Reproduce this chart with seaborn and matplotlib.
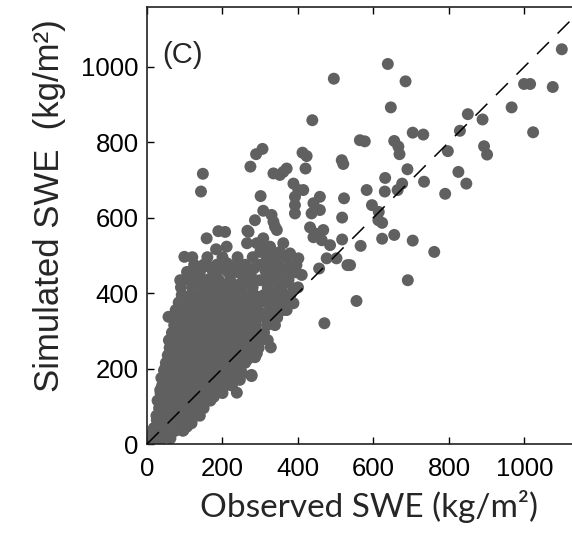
import matplotlib
matplotlib.use("Agg")
import matplotlib.pyplot as plt
import seaborn as sns
import pandas as pd

# ---- data (observed, simulated SWE, kg/m2) ----
obs_sparse = [495, 438, 306, 289, 412, 423, 516, 564,
              1099, 638, 685, 646, 577, 655, 666, 669, 704, 732, 797, 829, 850, 889, 893, 901, 966, 999, 1015, 1075, 1023,
              690, 631, 582, 630, 664, 676, 734, 825, 846, 790, 596, 614, 613, 623, 566, 623, 655, 704, 761, 538, 691, 555, 470,
              148, 143, 274, 420, 520, 335, 352, 370, 361, 388, 401, 414, 301, 392, 392, 392, 441, 458, 436, 458, 432, 467, 441,
              463, 485, 476, 502, 456, 522, 517, 517, 531,
              308, 330, 335, 344, 286, 266, 189, 158, 183, 211, 207, 99, 445,
              328, 339, 238, 277, 246, 249, 286, 266, 57]
sim_sparse = [968, 858, 782, 768, 772, 763, 752, 805,
              1046, 1007, 961, 892, 802, 803, 788, 768, 825, 820, 776, 830, 874, 860, 789, 767, 892, 954, 954, 946, 826,
              728, 705, 673, 669, 673, 690, 695, 721, 690, 663, 633, 615, 593, 586, 525, 544, 554, 539, 509, 474, 434, 379, 320,
              716, 669, 735, 730, 742, 717, 713, 730, 721, 690, 673, 673, 657, 655, 633, 611, 638, 655, 611, 620, 574, 567, 548,
              540, 527, 492, 492, 465, 651, 600, 542, 474,
              618, 607, 589, 567, 593, 565, 564, 545, 516, 523, 562, 496, 558,
              256, 315, 136, 180, 170, 192, 230, 224, 337]

obs_mid = [269, 265, 291, 305, 300, 327, 212, 190, 163, 106, 88, 141, 256, 283, 313, 238, 265, 300, 106, 132, 159, 88, 115,
           203, 221, 185, 265, 300, 327,
           339, 308, 326, 361, 352, 379, 401, 396, 317, 335, 317, 352, 388, 410, 335, 366, 388, 361, 326, 374, 352, 326,
           361, 335, 370, 388, 357, 326, 308, 291, 282, 273, 286, 277,
           291, 265, 291, 252, 185, 203, 212, 150, 177, 132, 124, 106, 97, 62, 48, 35, 35, 26, 18, 9, 35, 34]
sim_mid = [562, 532, 532, 532, 509, 505, 479, 461, 470, 456, 434, 430, 452, 465, 461, 421, 426, 434, 386, 381, 390, 355, 337,
           417, 390, 381, 381, 390, 373,
           576, 545, 523, 532, 509, 505, 492, 474, 487, 470, 456, 456, 456, 448, 434, 426, 412, 399, 399, 381, 373, 364,
           355, 342, 355, 373, 364, 373, 346, 333, 302, 276, 231, 183,
           293, 227, 240, 187, 152, 170, 196, 130, 125, 99, 72, 46, 37, 245, 200, 143, 90, 64, 42, 24, 19, 6]

core_rows = {
    15: [15, 40, 62],
    35: [22, 48, 75, 95],
    55: [28, 52, 78, 102, 118],
    75: [25, 50, 74, 98, 122, 140],
    95: [32, 56, 80, 104, 128, 150],
    115: [28, 52, 76, 100, 124, 148, 168],
    135: [36, 60, 84, 108, 132, 156, 180, 200],
    155: [40, 64, 88, 112, 136, 160, 184, 208, 225],
    175: [38, 62, 86, 110, 134, 158, 182, 206, 226],
    195: [45, 70, 94, 118, 142, 166, 190, 214, 236],
    215: [50, 74, 98, 122, 146, 170, 194, 218, 242, 260],
    235: [55, 80, 104, 128, 152, 176, 200, 224, 248, 268],
    255: [60, 84, 108, 132, 156, 180, 204, 228, 252, 276, 296],
    275: [58, 82, 106, 130, 154, 178, 202, 226, 250, 300, 320],
    295: [66, 90, 114, 138, 162, 186, 210, 234, 258, 282, 310],
    315: [72, 96, 120, 144, 168, 192, 216, 240, 264, 288, 318],
    335: [78, 102, 126, 150, 174, 198, 222, 246, 270, 312, 345],
    355: [76, 100, 124, 148, 172, 196, 220, 244, 268, 292, 340],
    375: [84, 108, 132, 156, 180, 204, 228, 252, 276, 300, 350],
    395: [92, 116, 140, 164, 188, 212, 236, 260, 284, 310, 345, 380],
    415: [90, 120, 150, 175, 200, 226, 250, 280, 320, 350, 400],
    435: [98, 125, 160, 190, 220, 255, 285, 315, 345, 375],
    455: [110, 140, 175, 215, 240, 270, 330, 365, 395],
    475: [125, 150, 185, 235, 260, 300, 350, 380],
    495: [120, 160, 200, 240, 280, 340, 370],
}

x_ticks = [0, 200, 400, 600, 800, 1000]
y_ticks = [0, 200, 400, 600, 800, 1000]

# ---- build table ----
obs = list(obs_sparse) + list(obs_mid)
sim = list(sim_sparse) + list(sim_mid)
for yv, xs in core_rows.items():
    obs += xs
    sim += [yv] * len(xs)
df = pd.DataFrame({"Observed": obs, "Simulated": sim})

sns.set_style("ticks")
plt.rcParams["font.family"] = ["Liberation Sans", "DejaVu Sans"]

fig = plt.figure(figsize=(5.72, 5.35), dpi=100)
ax = fig.add_axes([147 / 572, 1 - 444 / 535, 1 - 147 / 572, (444 - 7) / 535])

xmax, ymax = 1126, 1158
ax.plot([0, 1200], [0, 1200], color="black", lw=1.1, ls=(0, (11, 8)), zorder=3)
sns.scatterplot(data=df, x="Observed", y="Simulated", ax=ax, color="#606060",
                s=74, edgecolor="none", linewidth=0, zorder=2)

ax.set_xlim(0, xmax)
ax.set_ylim(0, ymax)
ax.set_xticks(x_ticks)
ax.set_yticks(y_ticks)
ax.tick_params(direction="in", length=5, width=1, top=True, right=False,
               labelsize=18.5, colors="black", pad=6)
ax.tick_params(axis="x", pad=9)
for side in ["left", "top", "bottom"]:
    ax.spines[side].set_color("#222222")
    ax.spines[side].set_linewidth(1.2)
ax.spines["right"].set_visible(False)

ax.set_xlabel("Observed SWE (kg/m\u00b2)", fontsize=24, family=["Lato", "DejaVu Sans"])
ax.set_ylabel("Simulated SWE  (kg/m\u00b2)", fontsize=25)
ax.xaxis.set_label_coords(0.522, -0.105)
ax.yaxis.set_label_coords(-0.19, 0.545)
ax.text(40, 1030, "(C)", fontsize=21, va="center", ha="left")

fig.savefig("out.png", dpi=100)
